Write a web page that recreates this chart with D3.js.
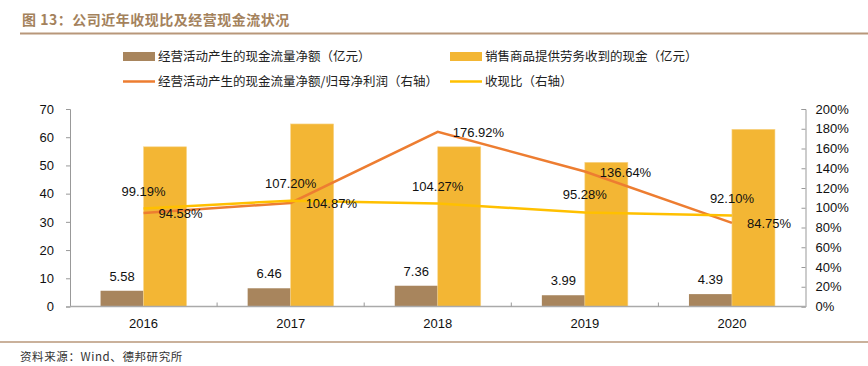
<!DOCTYPE html>
<html><head><meta charset="utf-8">
<script src="https://cdn.jsdelivr.net/npm/d3@7"></script>
<style>
body{margin:0;background:#fff;}
svg{display:block;}
</style></head>
<body>
<svg id="c" width="868" height="366"></svg>
<script>
const categories = ["2016","2017","2018","2019","2020"];
const netCashFlow = [5.58, 6.46, 7.36, 3.99, 4.39];          // 经营活动产生的现金流量净额（亿元）
const salesCash = [56.6, 64.7, 56.6, 51.1, 62.8];           // 销售商品提供劳务收到的现金（亿元）
const cashToProfit = [94.58, 104.87, 176.92, 136.64, 84.75]; // 经营活动净额/归母净利润（右轴）
const cashRatio = [99.19, 107.20, 104.27, 95.28, 92.10];    // 收现比（右轴）
const leftTicks = [0,10,20,30,40,50,60,70];
const rightTicks = [0,20,40,60,80,100,120,140,160,180,200];
const seriesNames = ["经营活动产生的现金流量净额（亿元）","销售商品提供劳务收到的现金（亿元）","经营活动产生的现金流量净额/归母净利润（右轴）","收现比（右轴）"];

const colBrown = "#a8855d", colGold = "#f3b634", colOrange = "#ed7d31", colYellow = "#ffc000";
const svg = d3.select("#c");
const cjk = "'Noto Sans CJK SC','Noto Sans',sans-serif";
const num = "'Liberation Sans',Arial,sans-serif";

// title
svg.append("text").attr("x",22).attr("y",25).text("图 13：公司近年收现比及经营现金流状况")
  .attr("font-family",cjk).attr("font-size",14).attr("font-weight","bold").attr("letter-spacing",0.5).attr("fill","#a4825c");
svg.append("line").attr("x1",20).attr("x2",868).attr("y1",33.5).attr("y2",33.5).attr("stroke","#b8977a").attr("stroke-width",2);

const L = 70, R = 805.5, T = 109, B = 306.5;
const x = d3.scaleBand().domain(categories).range([L,R]);
const inner = d3.scaleBand().domain([0,1]).range([0, 86]);
const yL = d3.scaleLinear().domain([0,70]).range([B,T]);
const yR = d3.scaleLinear().domain([0,200]).range([B,T]);

// bars
const g = svg.append("g");
categories.forEach((c,i)=>{
  const x0 = x(c) + x.bandwidth()/2 - 43;
  g.append("rect").attr("x",x0+inner(0)).attr("width",inner.bandwidth()).attr("y",yL(netCashFlow[i])).attr("height",B-yL(netCashFlow[i])).attr("fill",colBrown);
  g.append("rect").attr("x",x0+inner(1)).attr("width",inner.bandwidth()).attr("y",yL(salesCash[i])).attr("height",B-yL(salesCash[i])).attr("fill",colGold).attr("stroke","#f7d58a").attr("stroke-width",0.6);
  g.append("text").attr("x",x0+inner(0)+inner.bandwidth()/2).attr("y",yL(netCashFlow[i])-10).attr("text-anchor","middle")
    .attr("font-family",num).attr("font-size",13).attr("fill","#111").text(netCashFlow[i].toFixed(2));
});

// axes
const axL = svg.append("g").attr("transform",`translate(${L},0)`).call(d3.axisLeft(yL).tickValues(leftTicks).tickSize(4).tickPadding(12));
const axR = svg.append("g").attr("transform",`translate(${R},0)`).call(d3.axisRight(yR).tickValues(rightTicks).tickSize(-4).tickPadding(10).tickFormat(d=>d+"%"));
const axB = svg.append("g").attr("transform",`translate(0,${B})`).call(d3.axisBottom(x).tickSize(0).tickPadding(12));
[axL,axR,axB].forEach(a=>{
  a.select(".domain").attr("stroke","#999");
  a.selectAll(".tick line").attr("stroke","#999");
  a.selectAll("text").attr("font-family",num).attr("font-size",13).attr("fill","#111");
});
axB.select(".domain").attr("d",`M${L},0H${R}`).attr("stroke","#aaa").attr("stroke-width",1.5);
// category separator ticks
categories.slice(1).forEach(c=>{
  svg.append("line").attr("x1",x(c)).attr("x2",x(c)).attr("y1",B).attr("y2",B-4).attr("stroke","#999");
});

// lines
const cx = c => x(c)+x.bandwidth()/2;
const lineGen = d3.line().x((d,i)=>cx(categories[i])).y(d=>yR(d));
svg.append("path").datum(cashToProfit).attr("d",lineGen).attr("fill","none").attr("stroke",colOrange).attr("stroke-width",2.5);
svg.append("path").datum(cashRatio).attr("d",lineGen).attr("fill","none").attr("stroke",colYellow).attr("stroke-width",2.5);

cashRatio.forEach((v,i)=>{
  svg.append("text").attr("x",cx(categories[i])).attr("y",yR(v)-13).attr("text-anchor","middle")
    .attr("font-family",num).attr("font-size",13).attr("fill","#111").text(v.toFixed(2)+"%");
});
cashToProfit.forEach((v,i)=>{
  svg.append("text").attr("x",cx(categories[i])+15).attr("y",yR(v)+5).attr("text-anchor","start")
    .attr("font-family",num).attr("font-size",13).attr("fill","#111").text(v.toFixed(2)+"%");
});

// legend
const leg = [
  {x:123,y:56.5,type:"rect",c:colBrown},
  {x:450,y:56.5,type:"rect",c:colGold},
  {x:123,y:81.5,type:"line",c:colOrange},
  {x:450,y:81.5,type:"line",c:colYellow}
];
leg.forEach((d,i)=>{
  if(d.type==="rect") svg.append("rect").attr("x",d.x).attr("y",d.y-4.5).attr("width",32).attr("height",9).attr("fill",d.c);
  else svg.append("line").attr("x1",d.x).attr("x2",d.x+32).attr("y1",d.y).attr("y2",d.y).attr("stroke",d.c).attr("stroke-width",2.5);
  svg.append("text").attr("x",d.x+35).attr("y",d.y+4.5).text(seriesNames[i])
    .attr("font-family",cjk).attr("font-size",12.5).attr("fill","#222");
});

// footer
svg.append("line").attr("x1",0).attr("x2",868).attr("y1",342).attr("y2",342).attr("stroke","#b8977a").attr("stroke-width",1.5);
svg.append("text").attr("x",20).attr("y",361).text("资料来源：Wind、德邦研究所")
  .attr("font-family",cjk).attr("font-size",11.5).attr("letter-spacing",0.6).attr("fill","#333");
</script>
</body></html>
